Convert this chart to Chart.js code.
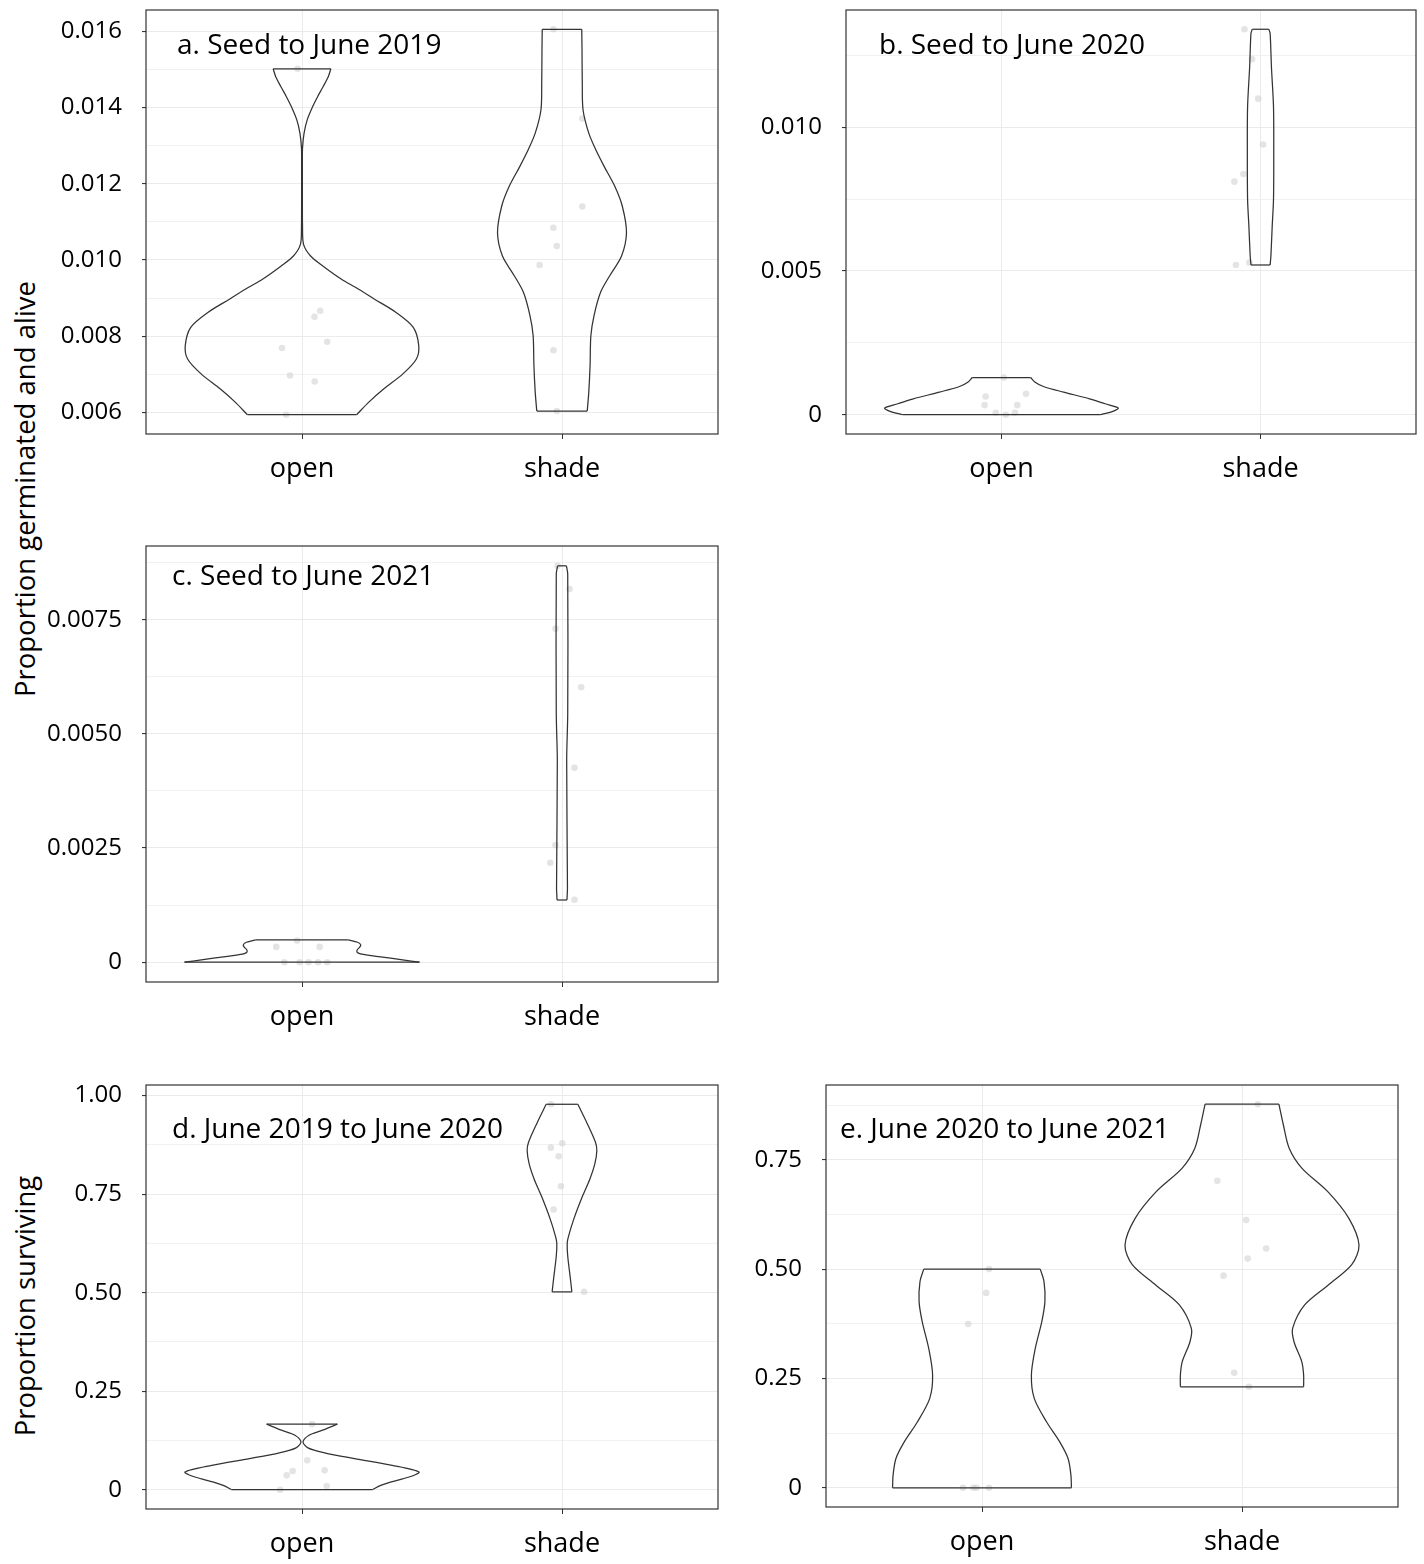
<!DOCTYPE html>
<html>
<head>
<meta charset="utf-8">
<title>Germination and survival, open vs shade</title>
<script src="https://cdn.jsdelivr.net/npm/chart.js@4.4.0/dist/chart.umd.min.js"></script>
<style>
  html, body { margin: 0; padding: 0; background: #fff; }
  body { position: relative; width: 1424px; height: 1564px; overflow: hidden; font-family: 'Open Sans', sans-serif; }
  .panel { position: absolute; }
  .ytitle {
    position: absolute; font-size: 27.5px; color: #000; white-space: nowrap;
    transform: translate(-50%, -50%) rotate(-90deg);
  }
</style>
</head>
<body>
<div class="ytitle" style="left:24px; top:489px;">Proportion germinated and alive</div>
<div class="ytitle" style="left:24px; top:1306px;">Proportion surviving</div>
<script>
// Treatments on the x axis
const categories = ['open', 'shade'];

// --- a. Seed to June 2019 ---
// violin outlines: density levels (bottom to top) and half-widths in category units
const aOpenLevels = [0.005939, 0.006270, 0.006618, 0.007010, 0.007402, 0.007751, 0.008230, 0.008622, 0.008970, 0.009275, 0.009493, 0.009842, 0.010103, 0.010408, 0.010887, 0.011584, 0.012455, 0.012934, 0.013326, 0.013674, 0.014023, 0.014284, 0.014545, 0.014807, 0.015016];
const aOpenWidths = [0.210, 0.257, 0.315, 0.388, 0.440, 0.449, 0.428, 0.362, 0.279, 0.207, 0.152, 0.080, 0.033, 0.006, 0.002, 0.0015, 0.0015, 0.002, 0.008, 0.020, 0.041, 0.060, 0.081, 0.101, 0.111];
const aShadeLevels = [0.006035, 0.006531, 0.007228, 0.008012, 0.008535, 0.009145, 0.009580, 0.010103, 0.010712, 0.011409, 0.011932, 0.012455, 0.012890, 0.013326, 0.013935, 0.014632, 0.015503, 0.016052];
const aShadeWidths = [0.097, 0.103, 0.108, 0.111, 0.123, 0.148, 0.183, 0.229, 0.248, 0.232, 0.203, 0.162, 0.130, 0.103, 0.081, 0.078, 0.077, 0.076];
// plot-level observations and their horizontal jitter
const aOpenValues = [0.015016, 0.008666, 0.008509, 0.007855, 0.007690, 0.006967, 0.006810, 0.005939];
const aOpenJitter = [-0.017, 0.070, 0.048, 0.097, -0.077, -0.046, 0.049, -0.061];
const aShadeValues = [0.016052, 0.013709, 0.011401, 0.010843, 0.010364, 0.009868, 0.007629, 0.006035];
const aShadeJitter = [-0.033, 0.078, 0.078, -0.033, -0.020, -0.086, -0.033, -0.020];
const aTicks = [0.006, 0.008, 0.010, 0.012, 0.014, 0.016];
const aTickLabels = ['0.006', '0.008', '0.010', '0.012', '0.014', '0.016'];

// --- b. Seed to June 2020 ---
const bOpenLevels = [0, 0.000092, 0.000231, 0.000381, 0.000554, 0.000785, 0.000982, 0.001132, 0.001293];
const bOpenWidths = [0.381, 0.422, 0.451, 0.400, 0.340, 0.240, 0.162, 0.130, 0.1125];
const bShadeLevels = [0.005208, 0.005520, 0.006559, 0.007483, 0.009215, 0.010716, 0.012102, 0.013256, 0.013406];
const bShadeWidths = [0.037, 0.040, 0.045, 0.050, 0.051, 0.050, 0.042, 0.037, 0.032];
const bOpenValues = [0.001293, 0.000635, 0.000335, 0.000727, 0.000335, 0.000069, 0, 0.000069];
const bOpenJitter = [0.009, -0.061, -0.065, 0.095, 0.061, -0.022, 0.017, 0.052];
const bShadeValues = [0.013406, 0.012367, 0.010993, 0.009400, 0.008372, 0.008106, 0.005208, 0.005289];
const bShadeJitter = [-0.062, -0.033, -0.009, 0.010, -0.066, -0.101, -0.095, -0.043];
const bTicks = [0, 0.005, 0.010];
const bTickLabels = ['0', '0.005', '0.010'];

// --- c. Seed to June 2021 ---
const cOpenLevels = [0, 0.000051, 0.000124, 0.000175, 0.000211, 0.000269, 0.000328, 0.000379, 0.000437, 0.000488];
const cOpenWidths = [0.452, 0.387, 0.294, 0.229, 0.213, 0.212, 0.222, 0.226, 0.214, 0.178];
const cShadeLevels = [0.001362, 0.001617, 0.004420, 0.005440, 0.008498, 0.008681];
const cShadeWidths = [0.019, 0.021, 0.018, 0.022, 0.022, 0.017];
const cOpenValues = [0.000335, 0.000473, 0.000335, 0, 0, 0, 0, 0];
const cOpenJitter = [-0.099, -0.019, 0.068, -0.068, -0.009, 0.025, 0.062, 0.097];
const cShadeValues = [0.008681, 0.008171, 0.007305, 0.006022, 0.004260, 0.002563, 0.002177, 0.001369];
const cShadeJitter = [-0.017, 0.029, -0.025, 0.074, 0.048, -0.025, -0.045, 0.048];
const cTicks = [0, 0.0025, 0.0050, 0.0075];
const cTickLabels = ['0', '0.0025', '0.0050', '0.0075'];

// --- d. June 2019 to June 2020 ---
const dOpenLevels = [0, 0.0110, 0.0195, 0.0323, 0.0450, 0.0620, 0.0789, 0.0934, 0.1061, 0.1214, 0.1384, 0.1511, 0.1664];
const dOpenWidths = [0.271, 0.303, 0.340, 0.412, 0.450, 0.347, 0.202, 0.087, 0.023, 0.004, 0.027, 0.079, 0.136];
const dShadeLevels = [0.502, 0.537, 0.593, 0.626, 0.643, 0.686, 0.745, 0.788, 0.826, 0.860, 0.881, 0.932, 0.978];
const dShadeWidths = [0.038, 0.032, 0.022, 0.020, 0.025, 0.045, 0.079, 0.107, 0.126, 0.134, 0.129, 0.095, 0.061];
const dOpenValues = [0.1664, 0.0747, 0.0475, 0.0365, 0.0492, 0.0093, 0];
const dOpenJitter = [0.039, 0.020, -0.036, -0.059, 0.087, 0.095, -0.084];
const dShadeValues = [0.978, 0.879, 0.868, 0.846, 0.770, 0.711, 0.5025];
const dShadeJitter = [-0.042, 0.001, -0.043, -0.013, -0.004, -0.032, 0.085];
const dTicks = [0, 0.25, 0.50, 0.75, 1.00];
const dTickLabels = ['0', '0.25', '0.50', '0.75', '1.00'];

// --- e. June 2020 to June 2021 ---
const eOpenLevels = [0, 0.029, 0.067, 0.105, 0.151, 0.2045, 0.258, 0.319, 0.380, 0.4257, 0.4715, 0.500];
const eOpenWidths = [0.344, 0.342, 0.331, 0.299, 0.248, 0.201, 0.190, 0.205, 0.230, 0.242, 0.2385, 0.224];
const eShadeLevels = [0.231, 0.258, 0.288, 0.334, 0.365, 0.418, 0.464, 0.510, 0.555, 0.616, 0.677, 0.731, 0.777, 0.830, 0.877];
const eShadeWidths = [0.237, 0.237, 0.230, 0.200, 0.195, 0.241, 0.333, 0.422, 0.450, 0.411, 0.330, 0.230, 0.181, 0.159, 0.142];
const eOpenValues = [0.5, 0.4456, 0.3746, 0, 0, 0, 0];
const eOpenJitter = [0.027, 0.016, -0.053, -0.073, -0.033, -0.021, 0.027];
const eShadeValues = [0.877, 0.702, 0.612, 0.547, 0.524, 0.485, 0.263, 0.231];
const eShadeJitter = [0.061, -0.095, 0.016, 0.093, 0.022, -0.071, -0.030, 0.027];
const eTicks = [0, 0.25, 0.50, 0.75];
const eTickLabels = ['0', '0.25', '0.50', '0.75'];

// Styling
const FONT = "'Open Sans', sans-serif";
const INK = '#333333';
const GRID = '#ebebeb';
const DOT = 'rgba(205, 205, 205, 0.55)';
const PAD = 110;     // space left of the panel for y tick labels
const BELOW = 72;    // space under the panel for category labels

// Panel layout: frame = [left, top, right, bottom] of the plotting area
const panels = [
  { frame: [146, 10, 718, 434], yRange: [0.005433, 0.016558], title: 'a. Seed to June 2019', dx: 31, dy: 44,
    ticks: aTicks, labels: aTickLabels,
    violins: [[aOpenLevels, aOpenWidths], [aShadeLevels, aShadeWidths]],
    dots: [[aOpenValues, aOpenJitter], [aShadeValues, aShadeJitter]] },
  { frame: [846, 10, 1416, 434], yRange: [-0.00067, 0.014076], title: 'b. Seed to June 2020', dx: 33, dy: 44,
    ticks: bTicks, labels: bTickLabels,
    violins: [[bOpenLevels, bOpenWidths], [bShadeLevels, bShadeWidths]],
    dots: [[bOpenValues, bOpenJitter], [bShadeValues, bShadeJitter]] },
  { frame: [146, 546, 718, 982], yRange: [-0.000434, 0.009115], title: 'c. Seed to June 2021', dx: 26, dy: 39,
    ticks: cTicks, labels: cTickLabels,
    violins: [[cOpenLevels, cOpenWidths], [cShadeLevels, cShadeWidths]],
    dots: [[cOpenValues, cOpenJitter], [cShadeValues, cShadeJitter]] },
  { frame: [146, 1085, 718, 1509], yRange: [-0.0489, 1.0269], title: 'd. June 2019 to June 2020', dx: 26, dy: 53,
    ticks: dTicks, labels: dTickLabels,
    violins: [[dOpenLevels, dOpenWidths], [dShadeLevels, dShadeWidths]],
    dots: [[dOpenValues, dOpenJitter], [dShadeValues, dShadeJitter]] },
  { frame: [826, 1085, 1398, 1507], yRange: [-0.04385, 0.92085], title: 'e. June 2020 to June 2021', dx: 14, dy: 53,
    ticks: eTicks, labels: eTickLabels,
    violins: [[eOpenLevels, eOpenWidths], [eShadeLevels, eShadeWidths]],
    dots: [[eOpenValues, eOpenJitter], [eShadeValues, eShadeJitter]] }
];

// Outline of one violin: two smooth sides plus flat caps at the data extremes
const violinSets = (center, levels, widths) => {
  const right = levels.map((y, i) => ({ x: center + widths[i], y }));
  const left = levels.map((y, i) => ({ x: center - widths[i], y }));
  const n = levels.length - 1;
  const edge = { showLine: true, pointRadius: 0, pointHoverRadius: 0, borderColor: INK, borderWidth: 1.25, fill: false, tension: 0.3 };
  return [
    { ...edge, data: right },
    { ...edge, data: left },
    { ...edge, tension: 0, data: [left[0], right[0]] },
    { ...edge, tension: 0, data: [left[n], right[n]] }
  ];
};

const dotSet = (center, values, jitter) => ({
  showLine: false,
  data: values.map((y, i) => ({ x: center + jitter[i], y })),
  pointRadius: 3.3,
  pointBackgroundColor: DOT,
  pointBorderWidth: 0
});

// Major breaks plus the minor breaks halfway between them
const gridValues = (majors, lo, hi) => {
  const step = majors[1] - majors[0];
  const minors = [majors[0] - step / 2, ...majors.map(v => v + step / 2)];
  return [...majors, ...minors].filter(v => v >= lo && v <= hi).sort((p, q) => p - q);
};

// Frame around the plotting area and the panel heading
const framePlugin = {
  id: 'frame',
  afterDatasetsDraw(chart, args, opts) {
    const { ctx, chartArea: a } = chart;
    ctx.save();
    ctx.strokeStyle = INK;
    ctx.lineWidth = 1.2;
    ctx.strokeRect(a.left, a.top, a.right - a.left, a.bottom - a.top);
    ctx.fillStyle = '#000';
    ctx.font = `28px ${FONT}`;
    ctx.textBaseline = 'alphabetic';
    ctx.textAlign = 'left';
    ctx.fillText(opts.text, a.left + opts.dx, a.top + opts.dy);
    ctx.restore();
  }
};

// keep the plotting area exactly where the layout puts it
const noEdgePadding = s => {
  s.paddingTop = 0;
  s.paddingBottom = 0;
  s.paddingLeft = 0;
  s.paddingRight = 0;
};

const makePanel = (p) => {
  const [fl, ft, fr, fb] = p.frame;
  const left = fl - PAD, top = ft - 4;
  const width = fr - left + 4, height = fb - top + BELOW;

  const box = document.createElement('div');
  box.className = 'panel';
  box.style.cssText = `left:${left}px;top:${top}px;width:${width}px;height:${height}px;`;
  const canvas = document.createElement('canvas');
  canvas.width = width;
  canvas.height = height;
  canvas.style.width = width + 'px';
  canvas.style.height = height + 'px';
  box.appendChild(canvas);
  document.body.appendChild(box);

  const [yMin, yMax] = p.yRange;
  const grid = gridValues(p.ticks, yMin, yMax);
  const isMajor = v => p.ticks.some(t => Math.abs(t - v) < 1e-9);
  const labelFor = v => {
    const i = p.ticks.findIndex(t => Math.abs(t - v) < 1e-9);
    return i >= 0 ? p.labels[i] : '';
  };

  const datasets = [];
  p.violins.forEach(([levels, widths], i) => datasets.push(...violinSets(i + 1, levels, widths)));
  p.dots.forEach(([values, jitter], i) => datasets.push(dotSet(i + 1, values, jitter)));

  new Chart(canvas, {
    type: 'scatter',
    data: { datasets },
    options: {
      responsive: false,
      animation: false,
      events: [],
      layout: { padding: { top: 4, right: 4, left: 0, bottom: 0 } },
      plugins: {
        legend: { display: false },
        tooltip: { enabled: false },
        frame: { text: p.title, dx: p.dx, dy: p.dy }
      },
      scales: {
        x: {
          type: 'linear',
          min: 0.4,
          max: 2.6,
          afterBuildTicks: s => { s.ticks = categories.map((c, i) => ({ value: i + 1 })); },
          afterFit: s => { s.height = BELOW; noEdgePadding(s); },
          ticks: {
            autoSkip: false,
            maxRotation: 0,
            padding: 14,
            color: '#000',
            font: { family: FONT, size: 27 },
            callback: v => categories[Math.round(v) - 1] || ''
          },
          grid: { color: GRID, lineWidth: 1, tickColor: INK, tickLength: 5 },
          border: { display: false }
        },
        y: {
          type: 'linear',
          min: yMin,
          max: yMax,
          afterBuildTicks: s => { s.ticks = grid.map(v => ({ value: v })); },
          afterFit: s => { s.width = PAD; noEdgePadding(s); },
          ticks: {
            autoSkip: false,
            padding: 20,
            color: '#000',
            font: { family: FONT, size: 24 },
            callback: v => labelFor(v)
          },
          grid: {
            color: GRID,
            lineWidth: c => (c.tick && isMajor(c.tick.value) ? 1.1 : 0.7),
            tickColor: c => (c.tick && isMajor(c.tick.value) ? INK : 'rgba(0,0,0,0)'),
            tickLength: 4
          },
          border: { display: false }
        }
      }
    },
    plugins: [framePlugin]
  });
};

panels.forEach(makePanel);
</script>
</body>
</html>
